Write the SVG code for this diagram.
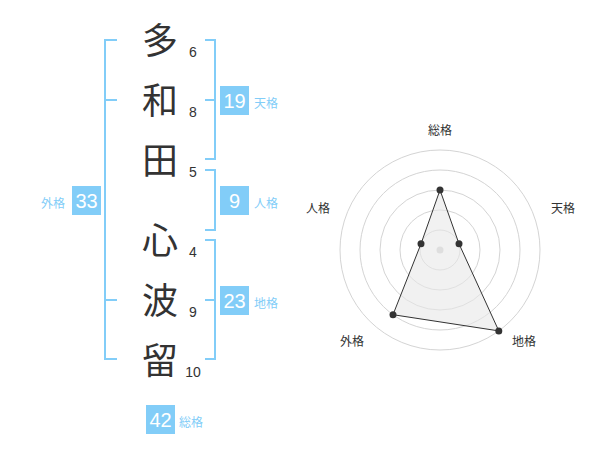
<svg xmlns="http://www.w3.org/2000/svg" width="600" height="470" viewBox="0 0 600 470">
<style>
.kanji{font-family:"Noto Sans CJK JP","Noto Sans CJK SC",sans-serif;font-size:36px;fill:#333;text-anchor:middle}
.num{font-family:"Liberation Sans",Arial,sans-serif;font-size:14px;fill:#333;text-anchor:middle}
.box{fill:#82cdf8}
.boxnum{font-family:"Liberation Sans",Arial,sans-serif;font-size:20px;fill:#fff;text-anchor:middle}
.lbl{font-family:"Noto Sans CJK JP","Noto Sans CJK SC",sans-serif;font-size:12px;fill:#82cdf8}
.rlbl{font-family:"Noto Sans CJK JP","Noto Sans CJK SC",sans-serif;font-size:12px;fill:#333;text-anchor:middle}
.br{fill:none;stroke:#82cdf8;stroke-width:2}
.ring{fill:none;stroke:#d4d4d4;stroke-width:1}
.dot{fill:#333}
</style>
<g id="connectors">
<path class="br" d="M117,40H105V359H117M105,100H117M105,300H117"/>
<path class="br" d="M205,40H215V159H205M205,100H215"/>
<path class="br" d="M205,170H215V230H205"/>
<path class="br" d="M205,240H215V359H205M205,300H215"/>
</g>
<g id="name">
<g id="c1"><text class="kanji" x="160" y="54">多</text><text class="num" x="193" y="57">6</text></g>
<g id="c2"><text class="kanji" x="160" y="114">和</text><text class="num" x="193" y="117">8</text></g>
<g id="c3"><text class="kanji" x="160" y="174">田</text><text class="num" x="193" y="177">5</text></g>
<g id="c4"><text class="kanji" x="160" y="254">心</text><text class="num" x="193" y="257">4</text></g>
<g id="c5"><text class="kanji" x="160" y="314">波</text><text class="num" x="193" y="317">9</text></g>
<g id="c6"><text class="kanji" x="160" y="374">留</text><text class="num" x="193" y="377">10</text></g>
</g>
<g id="tenkaku"><rect class="box" x="220" y="86" width="29" height="29"/><text class="boxnum" x="234.5" y="108">19</text><text class="lbl" x="254" y="108">天格</text></g>
<g id="jinkaku"><rect class="box" x="220" y="186" width="29" height="29"/><text class="boxnum" x="234.5" y="208">9</text><text class="lbl" x="254" y="208">人格</text></g>
<g id="chikaku"><rect class="box" x="220" y="286" width="29" height="29"/><text class="boxnum" x="234.5" y="308">23</text><text class="lbl" x="254" y="308">地格</text></g>
<g id="gaikaku"><rect class="box" x="72" y="186" width="29" height="29"/><text class="boxnum" x="86.5" y="208">33</text><text class="lbl" x="41" y="208">外格</text></g>
<g id="soukaku"><rect class="box" x="146" y="405" width="29" height="29"/><text class="boxnum" x="160.5" y="427">42</text><text class="lbl" x="179" y="427">総格</text></g>
<g id="radar">
<circle class="ring" cx="440" cy="250" r="20"/>
<circle class="ring" cx="440" cy="250" r="40"/>
<circle class="ring" cx="440" cy="250" r="60"/>
<circle class="ring" cx="440" cy="250" r="80"/>
<circle class="ring" cx="440" cy="250" r="100"/>
<circle cx="440" cy="250" r="3.5" fill="#cfcfcf"/>
<polygon points="440,190 459,243.8 498.8,330.9 393,314.7 421,243.8" fill="#e8e8e8" fill-opacity="0.6" stroke="#333" stroke-width="1"/>
<circle class="dot" cx="440" cy="190" r="3.5"/>
<circle class="dot" cx="459" cy="243.8" r="3.5"/>
<circle class="dot" cx="498.8" cy="330.9" r="3.5"/>
<circle class="dot" cx="393" cy="314.7" r="3.5"/>
<circle class="dot" cx="421" cy="243.8" r="3.5"/>
<text class="rlbl" x="440" y="135">総格</text>
<text class="rlbl" x="563" y="213">天格</text>
<text class="rlbl" x="524" y="346">地格</text>
<text class="rlbl" x="352" y="346">外格</text>
<text class="rlbl" x="318" y="213">人格</text>
</g>
</svg>
